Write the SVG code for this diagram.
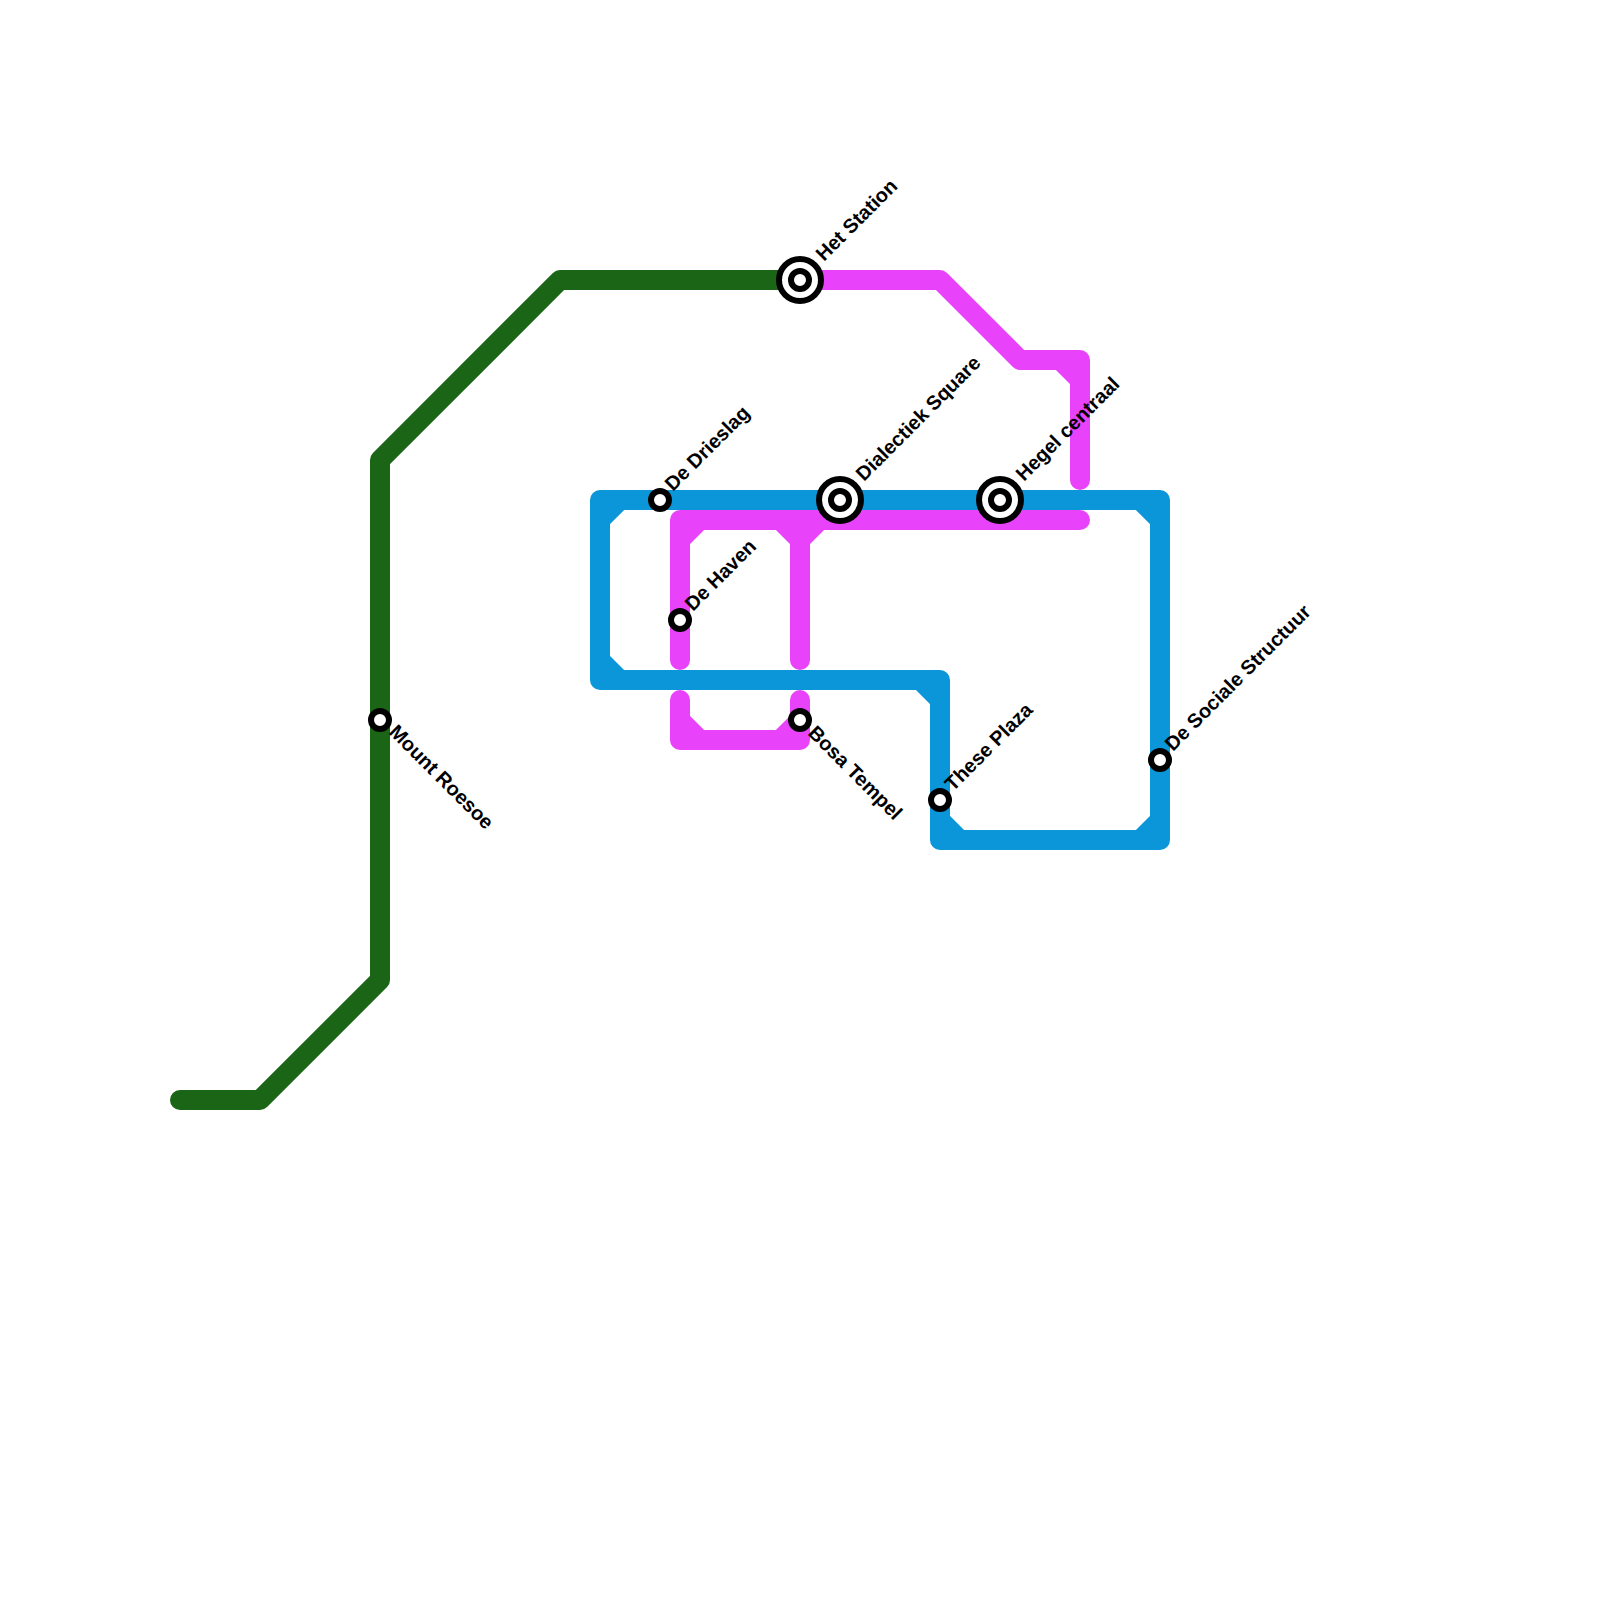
<svg xmlns="http://www.w3.org/2000/svg" width="1600" height="1600" viewBox="0 0 1600 1600">
<style>
.line{fill:none;stroke-width:20;stroke-linecap:round;stroke-linejoin:round}
.green{stroke:#1b6516}.blue{stroke:#0a96d8}.magenta{stroke:#e942fb}
.st{fill:#fff;stroke:#000;stroke-width:6}
.ring{fill:#fff;stroke:#000;stroke-width:6}
.lbl{font-family:"Liberation Sans",Arial,sans-serif;font-size:20px;font-weight:700;fill:#000;text-rendering:geometricPrecision}
</style>
<g id="connectors">
<path class="line green" d="M180 1100H260L380 980V460L560 280H800"/>
<path class="line blue" d="M600 500H1160V840H940V680H600ZM600 520L620 500M600 660L620 680M920 680L940 700M940 820L960 840M1140 840L1160 820M1140 500L1160 520"/>
<path class="line magenta" d="M800 280H940L1020 360H1080V480M1060 360L1080 380M1080 520H680V660M680 540L700 520M800 660V520M780 520L800 540L820 520M680 700V740H800V700M680 720L700 740M780 740L800 720"/>
</g>
<g id="het-station"><circle class="ring" cx="800" cy="280" r="21"/><circle class="st" cx="800" cy="280" r="9"/><text class="lbl" transform="translate(824 262) rotate(-45)">Het Station</text></g>
<g id="de-drieslag"><circle class="st" cx="660" cy="500" r="9"/><text class="lbl" transform="translate(673 492) rotate(-45)">De Drieslag</text></g>
<g id="dialectiek-square"><circle class="ring" cx="840" cy="500" r="21"/><circle class="st" cx="840" cy="500" r="9"/><text class="lbl" transform="translate(864 482) rotate(-45)">Dialectiek Square</text></g>
<g id="hegel-centraal"><circle class="ring" cx="1000" cy="500" r="21"/><circle class="st" cx="1000" cy="500" r="9"/><text class="lbl" transform="translate(1024 482) rotate(-45)">Hegel centraal</text></g>
<g id="de-haven"><circle class="st" cx="680" cy="620" r="9"/><text class="lbl" transform="translate(693 612) rotate(-45)">De Haven</text></g>
<g id="bosa-tempel"><circle class="st" cx="800" cy="720" r="9"/><text class="lbl" transform="translate(807 734) rotate(45)">Bosa Tempel</text></g>
<g id="these-plaza"><circle class="st" cx="940" cy="800" r="9"/><text class="lbl" transform="translate(953 792) rotate(-45)">These Plaza</text></g>
<g id="de-sociale-structuur"><circle class="st" cx="1160" cy="760" r="9"/><text class="lbl" transform="translate(1173 752) rotate(-45)">De Sociale Structuur</text></g>
<g id="mount-roesoe"><circle class="st" cx="380" cy="720" r="9"/><text class="lbl" transform="translate(388 733) rotate(45)">Mount Roesoe</text></g>
</svg>
